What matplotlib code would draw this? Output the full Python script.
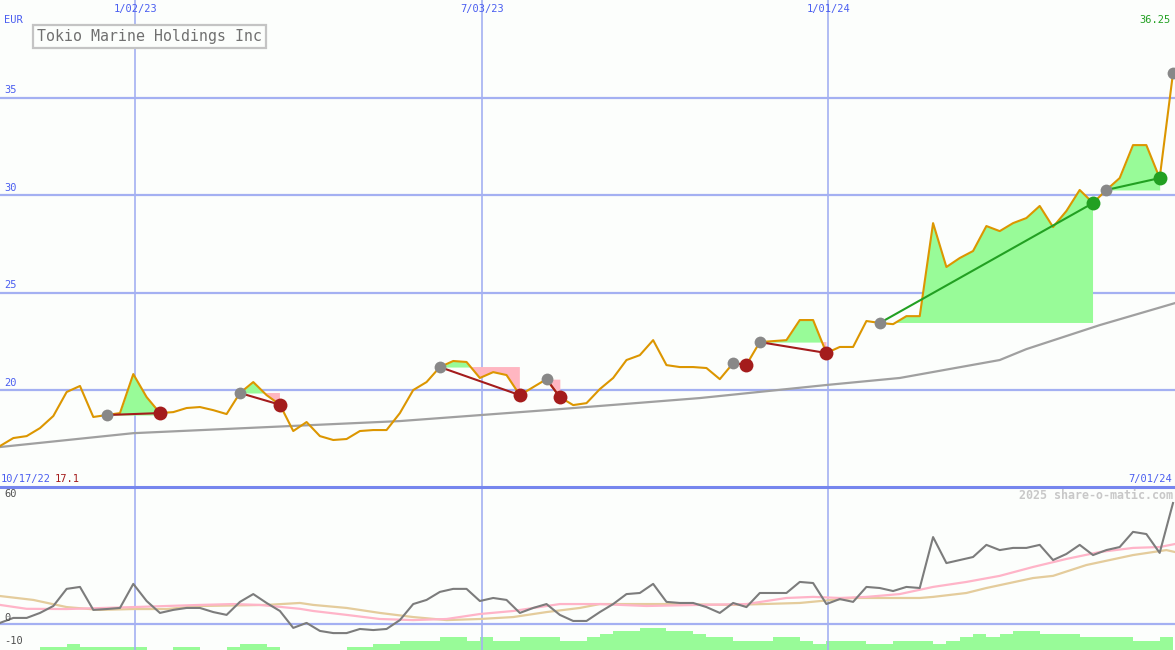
import matplotlib.pyplot as plt
import numpy as np
import pandas as pd
from matplotlib.transforms import blended_transform_factory

plt.rcParams['font.family'] = ['DejaVu Sans Mono']

# weekly closes in EUR, first week 10/24/22, last week 7/01/24
price = [17.13, 17.54, 17.64, 18.05, 18.67, 19.90, 20.21, 18.62, 18.72, 18.82,
         20.82, 19.64, 18.82, 18.87, 19.08, 19.13, 18.97, 18.77, 19.85, 20.41,
         19.74, 19.25, 17.90, 18.36, 17.64, 17.44, 17.49, 17.90, 17.95, 17.95,
         18.82, 20.00, 20.41, 21.18, 21.49, 21.44, 20.62, 20.92, 20.77, 19.74,
         20.15, 20.56, 19.64, 19.23, 19.33, 20.05, 20.62, 21.54, 21.79, 22.56,
         21.28, 21.18, 21.18, 21.13, 20.56, 21.38, 21.30, 22.46, 22.51, 22.56,
         23.59, 23.59, 21.90, 22.21, 22.21, 23.54, 23.44, 23.38, 23.79, 23.79,
         28.56, 26.31, 26.77, 27.13, 28.41, 28.15, 28.56, 28.82, 29.44, 28.36,
         29.18, 30.26, 29.59, 30.26, 30.87, 32.56, 32.56, 30.87, 36.25]

# long moving average of the price
sma_week = [0, 10, 20, 30, 41, 52.5, 62, 67.5, 71.25, 75, 77, 82.5, 88.15]
sma_val = [17.08, 17.79, 18.10, 18.41, 18.97, 19.59, 20.26, 20.62, 21.08, 21.54, 22.10, 23.33, 24.46]

# lower panel oscillator
osc = [0.5, 2.8, 2.8, 5.1, 8.3, 16.2, 17.1, 6.5, 6.9, 7.4,
       18.5, 10.6, 5.1, 6.5, 7.4, 7.4, 5.5, 4.2, 10.2, 13.8,
       9.7, 6.0, -1.8, 0.5, -3.2, -4.2, -4.2, -2.3, -2.8, -2.3,
       1.8, 9.2, 11.1, 14.8, 16.2, 16.2, 10.6, 12.0, 11.1, 5.1,
       7.4, 9.2, 4.2, 1.4, 1.4, 5.5, 9.2, 13.8, 14.3, 18.5,
       10.2, 9.7, 9.7, 7.8, 5.1, 9.7, 7.8, 14.3, 14.3, 14.3,
       19.4, 18.9, 9.2, 11.5, 10.2, 17.1, 16.6, 15.2, 17.1, 16.6,
       40.1, 28.1, 29.5, 30.9, 36.5, 34.1, 35.1, 35.1, 36.5, 29.5,
       32.3, 36.5, 31.8, 34.1, 35.5, 42.5, 41.5, 32.8, 55.8]

pink_week = [0, 2, 5, 10, 15, 17.5, 19.5, 22.5, 23.5, 26, 28.5, 31, 33.5, 36, 38.5, 42, 45,
             48.5, 52.5, 56, 59, 61, 63, 65, 67.5, 70, 72.5, 75, 77.5, 80, 82.5, 85, 87, 88.15]
pink_val = [8.8, 7.0, 6.9, 7.8, 8.8, 9.2, 8.8, 7.0, 6.0, 4.2, 2.3, 1.8, 2.3, 4.6, 6.0, 9.2, 9.2,
            8.3, 8.8, 9.2, 12.0, 12.5, 12.0, 12.5, 13.8, 17.1, 19.4, 22.2, 26.3, 30.0, 33.2, 35.1, 35.5, 36.9]

tan_week = [0, 2.5, 5, 7.5, 10, 12.5, 15, 20, 22.5, 23.5, 26, 28.5, 31, 33.5, 36, 38.5, 41, 43.5,
            45, 50, 55, 60, 64, 69, 70, 72.5, 74, 77.5, 79, 81.5, 85, 87.5, 88.15]
tan_val = [12.9, 11.1, 7.8, 6.5, 6.9, 6.9, 8.3, 8.8, 9.7, 8.8, 7.4, 5.1, 3.2, 1.8, 2.3, 3.2, 5.5, 7.4,
           9.2, 9.2, 8.8, 9.7, 12.0, 12.0, 12.5, 14.3, 16.6, 21.2, 22.2, 27.2, 31.8, 34.1, 33.2]

# weekly volume level
vol = [0, 0, 0, 1, 1, 2, 1, 1, 1, 1,
       1, 0, 0, 1, 1, 0, 0, 1, 2, 2,
       1, 0, 0, 0, 0, 0, 1, 1, 2, 2,
       3, 3, 3, 4, 4, 3, 4, 3, 3, 4,
       4, 4, 3, 3, 4, 5, 6, 6, 7, 7,
       6, 6, 5, 4, 4, 3, 3, 3, 4, 4,
       3, 2, 3, 3, 3, 2, 2, 3, 3, 3,
       2, 3, 4, 5, 4, 5, 6, 6, 5, 5,
       5, 4, 4, 4, 4, 3, 3, 4]

# trades (week index)
entries = [8, 18, 33, 41, 55, 57, 66, 83, 88]
exits = [12, 21, 39, 42, 56, 62, 82, 87]
won = [False, False, False, False, False, False, True, True]

start = pd.Timestamp('2022-10-23')
grid_dates = ['2023-01-02', '2023-07-03', '2024-01-01']
grid_labels = ['1/02/23', '7/03/23', '1/01/24']
price_ticks = [20, 25, 30, 35]

bg = '#fcfefc'
gridc = '#a4b0f2'
blue_txt = '#4a5ef0'
red = '#a41c1c'
green = '#22a022'

wk = np.arange(len(price))
p = np.array(price)
gx = [(pd.Timestamp(d) - start).days / 7 for d in grid_dates]

fig = plt.figure(figsize=(11.75, 6.5), dpi=100, facecolor=bg)
ax = fig.add_axes([0, 1 - 487 / 650, 1, 487 / 650])
ax2 = fig.add_axes([0, 0, 1, 163 / 650])

for a in (ax, ax2):
    a.set_facecolor(bg)
    a.set_xlim(0, 88.15)
    a.set_xticks([])
    a.set_yticks([])
    for s in a.spines.values():
        s.set_visible(False)
    for x in gx:
        a.axvline(x, color=gridc, lw=1.2, zorder=1)

# ---- top panel
ax.set_ylim(15.03, 40.0)
for t in price_ticks:
    ax.axhline(t, color=gridc, lw=1.6, zorder=1)
tr = blended_transform_factory(ax.transAxes, ax.transData)
for t in price_ticks:
    ax.text(0.004, t + 0.12, str(t), transform=tr, color=blue_txt, fontsize=7.5, va='bottom', ha='left')

ax.plot(sma_week, sma_val, color='#a0a0a0', lw=1.6, zorder=2)

for e, x, w in zip(entries, exits, won):
    seg = wk[e:x + 1]
    ps = p[e:x + 1]
    ref = p[e]
    ax.fill_between(seg, ps, ref, where=ps >= ref, interpolate=True, color='#98fb98', lw=0, zorder=2)
    ax.fill_between(seg, ps, ref, where=ps <= ref, interpolate=True, color='#ffb6c1', lw=0, zorder=2)

ax.plot(wk, p, color='#dc9600', lw=1.5, zorder=3)

for e, x, w in zip(entries, exits, won):
    ax.plot([e, x], [p[e], p[x]], color=green if w else red, lw=1.5, zorder=4)
ax.plot(entries, p[entries], 'o', color='#888888', ms=8.5, mec='none', zorder=5)
for x, w in zip(exits, won):
    ax.plot(x, p[x], 'o', color=green if w else red, ms=10, mec='none', zorder=5)

trx = blended_transform_factory(ax.transData, ax.transAxes)
for x, lab in zip(gx, grid_labels):
    ax.text(x, 1 - 9 / 487, lab, transform=trx, color=blue_txt, fontsize=7.5, ha='center', va='center')

fig.text(4 / 1175, 1 - 20 / 650, 'EUR', color=blue_txt, fontsize=7.5, va='center', ha='left')
fig.text(1171 / 1175, 1 - 20 / 650, '%.2f' % price[-1], color=green, fontsize=7.5, va='center', ha='right')
fig.text(37 / 1175, 1 - 36.5 / 650, 'Tokio Marine Holdings Inc', color='#707070', fontsize=10.7,
         va='center', ha='left',
         bbox=dict(boxstyle='square,pad=0.3', fc=bg, ec='#c4c4c4', lw=1.6))
fig.text(1 / 1175, 1 - 479 / 650, '10/17/22', color=blue_txt, fontsize=7.5, va='center', ha='left')
fig.text(55 / 1175, 1 - 479 / 650, '%.1f' % price[0], color=red, fontsize=7.5, va='center', ha='left')
fig.text(1172 / 1175, 1 - 479 / 650, '7/01/24', color=blue_txt, fontsize=7.5, va='center', ha='right')

# ---- lower panel
ax2.set_ylim(-12.0, 63.2)
ax2.spines['top'].set_visible(True)
ax2.spines['top'].set_color('#7686ee')
ax2.spines['top'].set_linewidth(2.2)
ax2.axhline(0, color=gridc, lw=1.6, zorder=1)

ax3 = ax2.twinx()
ax3.set_ylim(0, 51.7)
ax3.set_xlim(0, 88.15)
ax3.bar(np.arange(len(vol)), vol, width=1, align='edge', color='#98fb98', lw=0)
ax3.set_yticks([])
for s in ax3.spines.values():
    s.set_visible(False)
ax3.set_zorder(ax2.get_zorder() - 1)
ax2.patch.set_visible(False)
fig.patch.set_facecolor(bg)

ax2.plot(tan_week, tan_val, color='#e4cc9c', lw=1.6, zorder=2)
ax2.plot(pink_week, pink_val, color='#ffb4c8', lw=1.6, zorder=2)
ax2.plot(wk, osc, color='#7c7c7c', lw=1.5, zorder=3)

tr2 = blended_transform_factory(ax2.transAxes, ax2.transData)
ax2.text(0.004, 60, '60', transform=tr2, color='#505050', fontsize=7.5, va='center', ha='left')
ax2.text(0.004, 0.6, '0', transform=tr2, color='#505050', fontsize=7.5, va='bottom', ha='left')
ax2.text(0.004, -10, '-10', transform=tr2, color='#505050', fontsize=7.5, va='bottom', ha='left')
ax2.text(0.998, 0.985, '2025 share-o-matic.com', transform=ax2.transAxes, color='#c8c8c8',
         fontsize=8.4, fontweight='bold', ha='right', va='top')

fig.savefig('out.png', dpi=100, facecolor=bg)
